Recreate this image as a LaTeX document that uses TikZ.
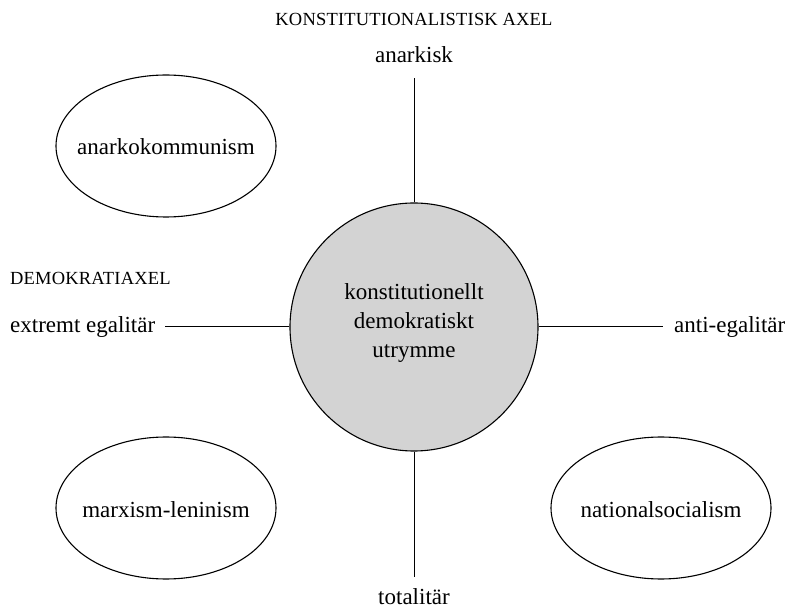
\documentclass[tikz,border=0pt]{standalone}
\usepackage{fontspec}
\setmainfont{Liberation Serif}
\usetikzlibrary{shapes.geometric}
\newcommand\fakesc[1]{{\fontsize{18.5}{22}\selectfont\addfontfeature{LetterSpace=1}#1}}
\definecolor{centrefill}{RGB}{211,211,211}
\tikzset{
  axisline/.style={line width=1pt},
  shapeline/.style={line width=1.1pt},
  blob/.style={shapeline, draw, ellipse, minimum width=220pt, minimum height=142pt, inner sep=0pt},
  txt/.style={inner sep=0pt, font=\fontsize{23}{29}\selectfont},
}
\begin{document}
\begin{tikzpicture}[x=1pt,y=-1pt]
\useasboundingbox (0,0) rectangle (787,609);
% centre circle
\node[shapeline, draw, circle, fill=centrefill, minimum size=248pt, inner sep=0pt] (c) at (414,327) {};
\node[txt, align=center, anchor=base] (ct) at (414,358) {konstitutionellt\\demokratiskt\\utrymme};
% axis end points
\coordinate (top) at (414,78);
\coordinate (bot) at (414,577);
\coordinate (lft) at (165,327);
\coordinate (rgt) at (663,327);
\draw[axisline] (c.north) -- (top);
\draw[axisline] (c.south) -- (bot);
\draw[axisline] (c.west) -- (lft);
\draw[axisline] (c.east) -- (rgt);
% axis labels
\node[inner sep=0pt, anchor=base] (ax1) at (414,26) {\fakesc{KONSTITUTIONALISTISK AXEL}};
\node[txt, anchor=base] (an) at (414,63) {anarkisk};
\node[txt, anchor=base] (to) at (414,604) {totalitär};
\node[inner sep=0pt, anchor=base west] (ax2) at (10,285) {\fakesc{DEMOKRATIAXEL}};
\node[txt, anchor=base west] (eg) at (10,333) {extremt egalitär};
\node[txt, anchor=base west] (ae) at (674,333) {anti-egalitär};
% ellipses
\node[blob] (e1) at (166,146) {};
\node[txt, anchor=base] (e1t) at (166,155) {anarkokommunism};
\node[blob] (e2) at (166,508) {};
\node[txt, anchor=base] (e2t) at (166,517) {marxism-leninism};
\node[blob] (e3) at (661,508) {};
\node[txt, anchor=base] (e3t) at (661,517) {nationalsocialism};
\end{tikzpicture}
\end{document}
